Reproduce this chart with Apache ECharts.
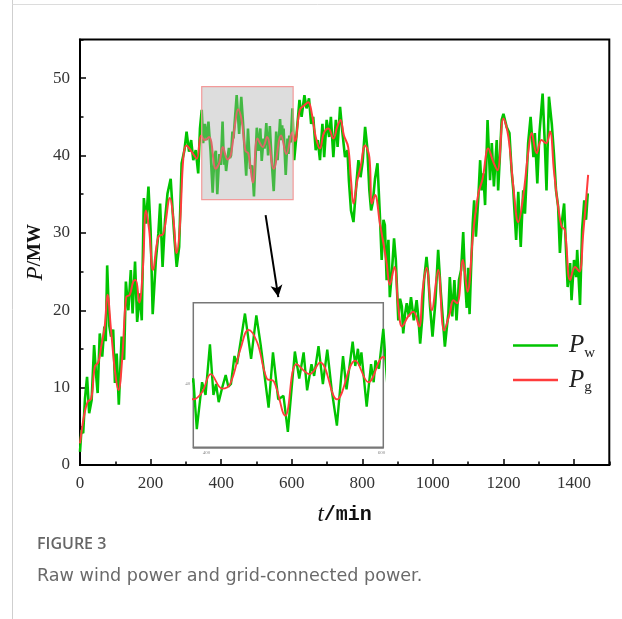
<!DOCTYPE html>
<html><head><meta charset="utf-8">
<script src="https://cdn.jsdelivr.net/npm/echarts@6/dist/echarts.min.js"></script>
<style>html,body{margin:0;padding:0;background:#fff}#c{width:622px;height:619px}</style>
</head><body><div id="c"></div>
<script>
// ---- data ----
const pwTime = [0,4,9,14,20,26,33,40,45,50,56,63,69,73,77,83,88,94,99,104,110,118,125,130,137,144,149,156,162,170,175,181,187,194,200,206,215,222,227,234,241,248,257,263,268,274,281,288,296,302,309,315,321,328,335,340,345,349,354,359,364,370,376,381,385,389,395,399,404,408,411,414,418,422,425,428,432,435,440,444,451,457,462,471,476,482,488,493,501,506,511,515,520,523,528,533,538,543,549,556,560,567,570,573,575,577,583,588,591,593,597,602,607,614,622,628,636,642,649,655,661,668,674,680,687,692,699,706,711,718,725,730,737,743,751,758,762,768,775,784,789,795,801,808,814,820,825,830,836,843,850,855,860,864,869,874,878,884,890,895,902,907,912,916,921,926,932,938,946,954,959,964,970,975,982,987,992,999,1007,1015,1022,1028,1034,1040,1044,1048,1055,1061,1067,1074,1080,1086,1091,1096,1100,1104,1108,1113,1117,1122,1129,1134,1138,1143,1148,1155,1162,1167,1173,1181,1185,1190,1195,1200,1209,1217,1223,1228,1236,1242,1249,1256,1261,1270,1277,1285,1289,1296,1302,1311,1318,1322,1329,1337,1343,1349,1355,1360,1365,1372,1377,1382,1389,1393,1400,1406,1409,1417,1423,1429,1434,1439];
const pwValue = [1.7,4.5,4.1,8.5,11.4,6.7,8.4,15.5,12.0,9.3,17.0,14.0,17.9,16.0,25.8,18.0,16.6,17.5,10.6,14.4,7.8,16.6,13.6,23.7,20.0,25.2,19.6,26.3,18.5,22.2,18.7,34.5,31.2,36.0,30.4,19.5,26.5,29.9,33.8,25.6,31.7,35.1,37.0,32.5,29.1,25.6,28.2,39.0,40.7,43.1,40.5,42.0,39.4,40.7,37.7,43.5,45.9,41.6,44.1,42.0,44.4,40.5,35.2,40.0,40.6,35.0,40.2,38.8,44.4,38.8,40.0,38.0,39.6,41.0,39.7,40.0,43.1,42.2,45.3,47.8,42.8,47.6,44.3,37.4,43.5,38.3,38.7,34.7,43.6,40.6,43.5,39.3,42.2,40.9,44.2,40.0,43.8,39.4,35.4,43.1,39.4,44.7,42.0,43.9,42.0,43.5,37.5,42.2,40.2,42.6,41.7,46.1,39.4,42.9,47.2,45.0,47.8,46.1,47.4,44.1,45.0,40.7,42.0,39.4,44.1,39.8,44.6,42.4,45.0,39.8,44.6,41.1,46.3,43.3,39.8,40.7,36.8,32.9,31.4,36.8,39.4,37.2,39.2,43.7,41.1,35.5,32.9,34.0,37.0,39.0,32.1,26.5,31.7,31.0,23.9,29.1,21.7,25.0,29.3,26.5,18.7,21.5,20.5,17.0,19.5,20.9,19.2,21.7,18.7,21.3,19.0,15.7,19.0,23.9,26.9,24.5,20.5,16.6,21.0,27.8,22.6,19.0,15.3,18.0,19.6,24.3,19.2,23.9,18.7,23.9,25.2,30.1,24.0,20.3,25.5,19.5,25.0,31.2,34.2,29.5,34.7,39.4,35.5,37.7,33.6,44.6,36.8,41.6,36.0,42.0,35.5,40.0,44.6,45.4,43.7,42.9,38.1,35.5,29.1,35.3,28.2,35.5,32.5,41.6,45.0,39.8,42.9,36.4,42.9,48.0,40.7,35.5,47.6,44.1,40.3,35.5,33.4,27.4,31.2,33.8,28.2,23.0,26.1,21.3,26.5,24.3,27.8,20.7,30.4,34.2,31.7,35.1];
const pgTime = [0,12,22,32,42,52,60,70,78,88,100,109,120,131,141,151,158,168,178,187,196,207,222,236,255,264,274,283,293,302,316,331,343,354,366,385,395,405,418,427,439,448,458,469,477,490,503,518,530,549,570,585,602,609,623,636,647,657,668,680,691,704,718,729,738,748,760,768,775,786,795,808,820,827,836,850,860,869,878,891,902,913,930,945,961,971,982,997,1015,1032,1048,1058,1069,1085,1098,1115,1129,1141,1157,1171,1183,1200,1214,1228,1242,1256,1270,1280,1294,1308,1321,1332,1343,1355,1365,1374,1389,1403,1415,1426,1440];
const pgValue = [2.8,6.5,8.2,8.6,12.7,13.3,15.3,17.9,22.0,17.4,11.8,9.7,14.0,21.7,22.0,23.7,23.9,21.0,25.2,32.9,30.4,25.2,29.5,29.9,34.5,32.1,27.4,30.8,39.8,41.3,40.5,39.6,42.6,42.0,42.4,38.3,39.1,41.1,39.5,40.0,43.9,46.0,44.6,40.6,40.3,36.5,42.2,41.1,42.4,38.3,42.6,40.2,43.0,41.9,45.9,46.5,46.9,45.4,42.4,40.9,42.9,43.5,42.2,43.7,44.6,42.6,41.1,36.8,33.8,36.8,38.5,41.3,39.8,33.8,34.9,31.2,28.6,26.1,23.3,25.6,20.5,17.9,19.2,19.8,17.9,22.6,25.5,20.0,25.2,17.4,19.6,21.3,20.9,26.5,22.4,30.4,35.1,37.0,40.9,39.2,38.1,44.8,42.4,36.0,31.4,34.7,40.3,42.9,40.3,42.0,41.6,43.1,38.1,33.4,30.8,30.4,23.9,25.6,25.0,29.9,37.5];
const zoomBoxX = [345,604];
const zoomBoxY = [34.3,48.9];
const insetRangeX = [385,602];
const insetRangeY = [33,49];
const insetTicksX = [400,500,600];
const insetLabelsX = [400,600];
const insetTicksY = [35,40,45];
const insetLabelsY = [40];
const arrowFrom = [526,32.3];
const arrowTo = [562,21.7];

const pw = pwTime.map((t,i)=>[t,pwValue[i]]);
const pg = pgTime.map((t,i)=>[t,pgValue[i]]);

const GREEN = '#00c400', RED = '#ff3c3c';
const serif = 'Liberation Serif';
const plain = v => String(v);

const chart = echarts.init(document.getElementById('c'), null, {renderer:'canvas'});
const mainAxisCommon = { type:'value', gridIndex:0, splitLine:{show:false} };
chart.setOption({
  backgroundColor:'#fff',
  animation:false,
  grid:[
    {left:80, top:39.5, right:12.7, bottom:154, show:true, borderColor:'#000', borderWidth:2, backgroundColor:'transparent'},
    {left:193.3, top:302.7, width:190, height:144.6, show:true, borderColor:'#777', borderWidth:1.5, backgroundColor:'#fff', z:3}
  ],
  legend:{
    data:['Pw','Pg'], orient:'vertical', left:513, top:333, padding:0, icon:'rect', itemWidth:45, itemHeight:2.6, itemGap:7,
    formatter: n => n==='Pw' ? '{p|P}{s|w}' : '{p|P}{s|g}',
    textStyle:{ padding:[0,0,0,6], rich:{
      p:{fontFamily:serif, fontStyle:'italic', fontSize:25, lineHeight:26, color:'#222'},
      s:{fontFamily:serif, fontSize:15, lineHeight:26, verticalAlign:'bottom', color:'#222', padding:[0,0,-2,0]}
    }}
  },
  xAxis:[
    Object.assign({}, mainAxisCommon, {
      min:0, max:1500, interval:200, position:'bottom',
      axisLine:{show:true, lineStyle:{color:'#000', width:2}},
      axisTick:{show:true, inside:true, length:6, lineStyle:{color:'#000', width:1.5}},
      axisLabel:{showMaxLabel:false, margin:10, fontFamily:serif, fontSize:17, color:'#333', formatter:plain},
      name:'{i|t}{m|/min}', nameLocation:'middle', nameGap:38, nameMoveOverlap:false,
      nameTextStyle:{rich:{
        i:{fontFamily:serif, fontStyle:'italic', fontSize:23, color:'#111'},
        m:{fontFamily:'Liberation Mono', fontWeight:'bold', fontSize:20, color:'#111'}
      }}
    }),
    Object.assign({}, mainAxisCommon, {
      min:0, max:1500, interval:100, position:'bottom',
      axisLine:{show:false},
      axisTick:{show:true, inside:true, length:3.5, lineStyle:{color:'#000', width:1.5}},
      axisLabel:{show:false}
    }),
    {
      type:'value', gridIndex:1, min:insetRangeX[0], max:insetRangeX[1], splitLine:{show:false},
      axisLine:{show:true, lineStyle:{color:'#777', width:1.5}},
      axisTick:{show:true, inside:true, length:3, customValues:insetTicksX, lineStyle:{color:'#555', width:1}},
      axisLabel:{customValues:insetLabelsX, fontSize:5, color:'#888', margin:3, fontFamily:serif}
    }
  ],
  yAxis:[
    Object.assign({}, mainAxisCommon, {
      min:0, max:55, interval:10, position:'left',
      axisLine:{show:true, lineStyle:{color:'#000', width:2}},
      axisTick:{show:true, inside:true, length:6, lineStyle:{color:'#000', width:1.5}},
      axisLabel:{showMaxLabel:false, margin:10, fontFamily:serif, fontSize:17, color:'#333', formatter:plain},
      name:'{i|P}{m|/MW}', nameLocation:'middle', nameGap:33, nameRotate:90, nameMoveOverlap:false,
      nameTextStyle:{rich:{
        i:{fontFamily:serif, fontStyle:'italic', fontSize:23, color:'#111'},
        m:{fontFamily:serif, fontWeight:'bold', fontSize:19, color:'#111'}
      }}
    }),
    Object.assign({}, mainAxisCommon, {
      min:0, max:55, interval:5, position:'left',
      axisLine:{show:false},
      axisTick:{show:true, inside:true, length:3.5, lineStyle:{color:'#000', width:1.5}},
      axisLabel:{show:false}
    }),
    {
      type:'value', gridIndex:1, min:insetRangeY[0], max:insetRangeY[1], splitLine:{show:false},
      axisLine:{show:true, lineStyle:{color:'#777', width:1.5}},
      axisTick:{show:true, inside:true, length:3, customValues:insetTicksY, lineStyle:{color:'#555', width:1}},
      axisLabel:{customValues:insetLabelsY, fontSize:5, color:'#888', margin:3, fontFamily:serif}
    }
  ],
  series:[
    {name:'Pw', type:'line', xAxisIndex:0, yAxisIndex:0, data:pw, symbol:'none', z:2,
      lineStyle:{color:GREEN, width:2.6}, itemStyle:{color:GREEN}},
    {name:'Pg', type:'line', xAxisIndex:0, yAxisIndex:0, data:pg, symbol:'none', smooth:0.4, z:3,
      lineStyle:{color:RED, width:2}, itemStyle:{color:RED}},
    {name:'zoomBox', type:'custom', xAxisIndex:0, yAxisIndex:0, z:8, silent:true,
      encode:{x:[0,2], y:[1,3]},
      data:[[zoomBoxX[0], zoomBoxY[1], zoomBoxX[1], zoomBoxY[0]]],
      renderItem:(params, api) => {
        const p0 = api.coord([api.value(0), api.value(1)]);
        const p1 = api.coord([api.value(2), api.value(3)]);
        return {type:'rect', shape:{x:p0[0], y:p0[1], width:p1[0]-p0[0], height:p1[1]-p0[1]},
          style:{fill:'rgba(170,170,170,0.4)', stroke:'#f39a9a', lineWidth:1.2}};
      }
    },
    {name:'arrow', type:'line', xAxisIndex:0, yAxisIndex:0, data:[], symbol:'none', z:9, silent:true,
      markLine:{silent:true, symbol:['none','arrow'], symbolSize:[9,12], label:{show:false},
        lineStyle:{color:'#000', width:2, type:'solid'},
        data:[[{coord:arrowFrom},{coord:arrowTo}]]}
    },
    {name:'Pw_inset', type:'line', xAxisIndex:2, yAxisIndex:2, data:pw, symbol:'none', z:4, clip:true,
      lineStyle:{color:GREEN, width:2.4}},
    {name:'Pg_inset', type:'line', xAxisIndex:2, yAxisIndex:2, data:pg, symbol:'none', smooth:0.4, z:5, clip:true,
      lineStyle:{color:RED, width:1.8}}
  ],
  graphic:[
    {type:'line', shape:{x1:12.5,y1:0,x2:12.5,y2:619}, style:{stroke:'#cfcfcf', lineWidth:1}, silent:true},
    {type:'line', shape:{x1:12.5,y1:4.5,x2:622,y2:4.5}, style:{stroke:'#dcdcdc', lineWidth:1}, silent:true},
    {type:'text', left:37, top:536, style:{text:'FIGURE 3', fontFamily:'Open Sans', fontWeight:600, fontSize:16, fill:'#666'}},
    {type:'text', left:37, top:567, style:{text:'Raw wind power and grid-connected power.', fontFamily:'DejaVu Sans', fontSize:17.6, fill:'#6a6a6a'}}
  ]
});
</script></body></html>
